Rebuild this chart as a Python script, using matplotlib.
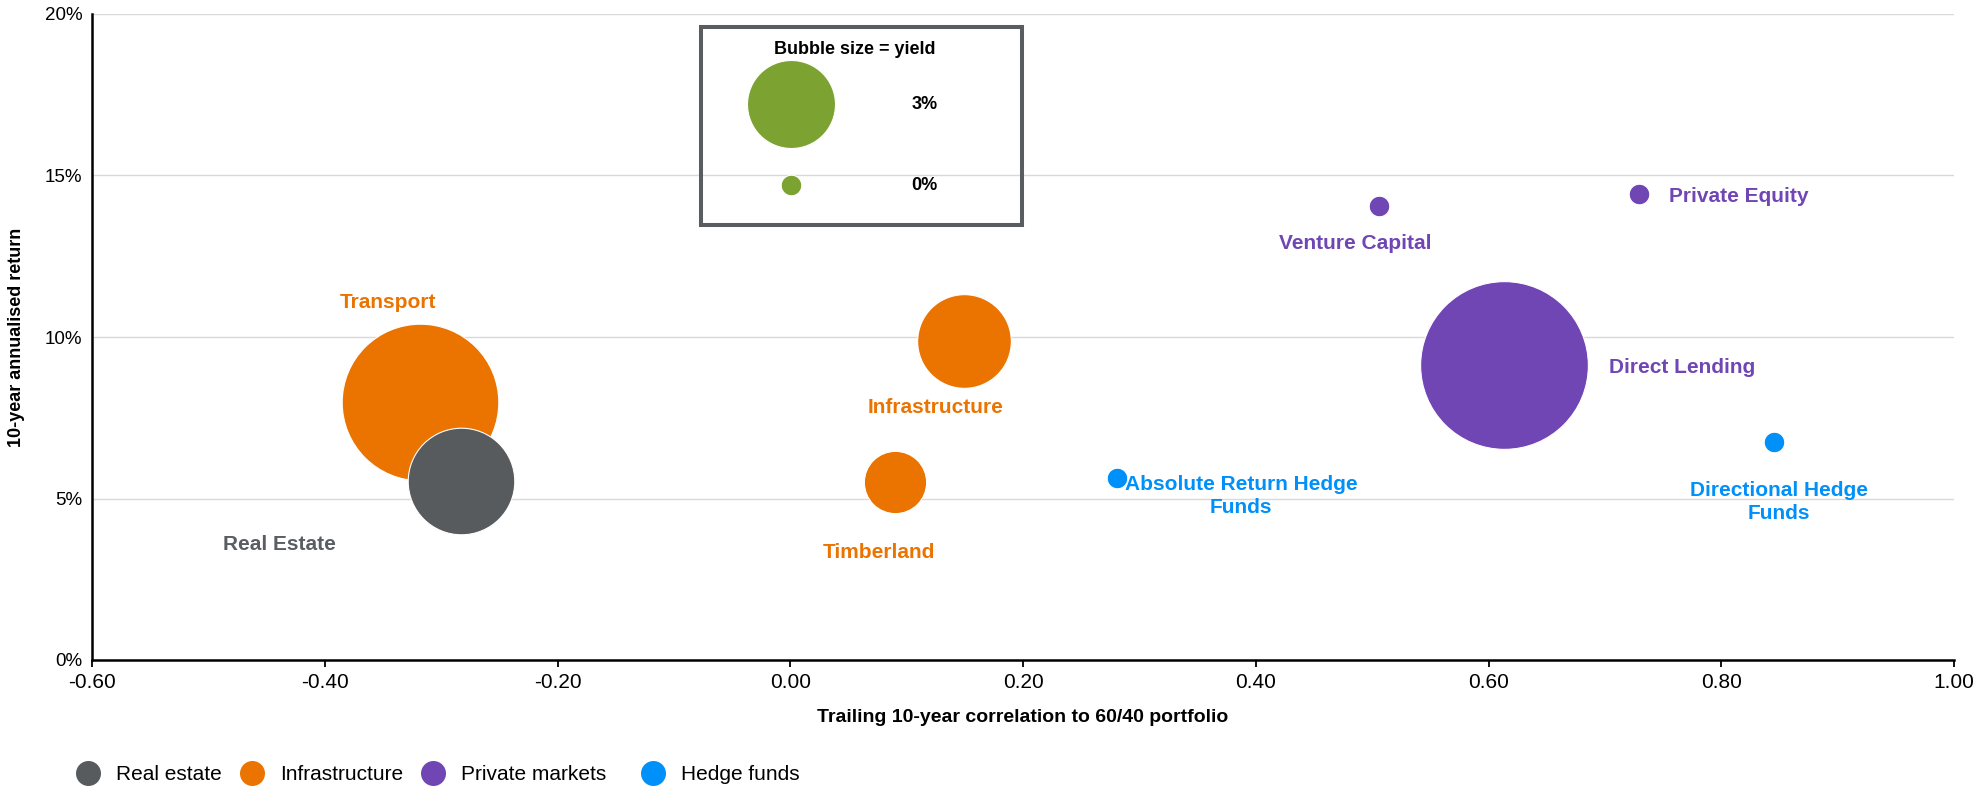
import numpy as np
import matplotlib
matplotlib.use("Agg")
import matplotlib.pyplot as plt
from matplotlib.lines import Line2D
from matplotlib.patches import Rectangle

plt.rcParams['font.family'] = ['Liberation Sans', 'DejaVu Sans']

# data
names = ['Real Estate', 'Transport', 'Infrastructure', 'Timberland',
         'Venture Capital', 'Private Equity', 'Direct Lending',
         'Absolute Return Hedge\nFunds', 'Directional Hedge\nFunds']
groups = ['Real estate', 'Infrastructure', 'Infrastructure', 'Infrastructure',
          'Private markets', 'Private markets', 'Private markets',
          'Hedge funds', 'Hedge funds']
correlation = [-0.283, -0.318, 0.149, 0.090, 0.506, 0.729, 0.613, 0.281, 0.845]
returns = [5.53, 8.0, 9.87, 5.5, 14.07, 14.42, 9.12, 5.63, 6.75]
yields = [4.4, 9.5, 3.4, 1.5, 0.0, 0.0, 10.9, 0.0, 0.0]

group_order = ['Real estate', 'Infrastructure', 'Private markets', 'Hedge funds']
key_yields = [3, 0]
key_labels = ['3%', '0%']

x_ticks = [-0.6, -0.4, -0.2, 0.0, 0.2, 0.4, 0.6, 0.8, 1.0]
y_ticks = [0, 5, 10, 15, 20]

# styling
colors = {'Real estate': '#575B5E', 'Infrastructure': '#EB7300',
          'Private markets': '#7046B4', 'Hedge funds': '#0090FA'}
label_colors = {'Real estate': '#5A5E62', 'Infrastructure': '#EB7300',
                'Private markets': '#7046B4', 'Hedge funds': '#0090FA'}
key_color = '#7CA232'
zorders = {'Real estate': 4, 'Infrastructure': 3, 'Private markets': 3, 'Hedge funds': 3}
# label offsets from bubble centre, in pixels
label_offsets = [(-181, -63), (-32, 99), (-28, -66), (-16, -70), (-24, -38),
                 (100, -2), (178, -2), (124, -18), (5, -60)]
# legend entry marker centres, in pixels from the left
legend_x = [87.5, 252, 433, 653]

DPI = 100
W, H = 1977, 789


def bubble_size(y):
    # bubble area follows yield, with a minimum dot; radius in px -> scatter s in pt^2
    r = max(10.3, 44 * np.sqrt(y / 3.0))
    d_pt = 2 * r * 72 / DPI
    return d_pt ** 2


fig = plt.figure(figsize=(W / DPI, H / DPI), dpi=DPI)
ax = fig.add_axes([92 / W, 1 - 660 / H, 1862 / W, 646 / H])

ax.set_xlim(-0.6, 1.0)
ax.set_ylim(0, 20)
ax.set_xticks(x_ticks)
ax.set_xticklabels([f"{t:.2f}" for t in x_ticks])
ax.set_yticks(y_ticks)
ax.set_yticklabels([f"{t}%" for t in y_ticks])
ax.tick_params(axis='x', length=5, width=1.3, direction='out', pad=4, labelsize=15, colors='black')
ax.tick_params(axis='y', length=0, pad=7, labelsize=13.5)
ax.grid(axis='y', color='#D9D9D9', linewidth=1.0)
ax.set_axisbelow(True)
for s in ['top', 'right']:
    ax.spines[s].set_visible(False)
for s in ['left', 'bottom']:
    ax.spines[s].set_linewidth(1.8)
    ax.spines[s].set_color('black')

ax.set_xlabel('Trailing 10-year correlation to 60/40 portfolio', fontsize=14, fontweight='bold')
ax.xaxis.label.set_va('center')
ax.xaxis.set_label_coords(0.5, (660 - 718) / 646)
ax.set_ylabel('10-year annualised return', fontsize=13, fontweight='bold')
ax.yaxis.label.set_va('center')
ax.yaxis.label.set_ha('center')
ax.yaxis.set_label_coords((17 - 92) / 1862, 0.5)

# bubbles
for i in range(len(names)):
    g = groups[i]
    ax.scatter(correlation[i], returns[i], s=bubble_size(yields[i]), color=colors[g],
               edgecolors='white', linewidths=0.8, zorder=zorders[g], clip_on=False)
    ax.annotate(names[i], (correlation[i], returns[i]), xytext=label_offsets[i],
                textcoords='offset pixels', ha='center', va='center',
                multialignment='center', linespacing=1.3,
                fontsize=15, fontweight='bold', color=label_colors[g], zorder=6)

# bubble size key
box = Rectangle((0.3269, 0.6734), 0.4993 - 0.3269, 0.9803 - 0.6734, transform=ax.transAxes,
                fill=False, edgecolor='#595D60', linewidth=2.9, zorder=5, clip_on=False)
ax.add_patch(box)
ax.text(0.4099, 0.9443, 'Bubble size = yield', transform=ax.transAxes, ha='center', va='center',
        fontsize=13, fontweight='bold', zorder=6)
key_y = [0.8602, 0.7348]
for ky, yv, lab in zip(key_y, key_yields, key_labels):
    ax.scatter([0.3754], [ky], s=bubble_size(yv), color=key_color, edgecolors='white',
               linewidths=0.8, transform=ax.transAxes, zorder=6, clip_on=False)
    ax.text(0.4472, ky, lab, transform=ax.transAxes, ha='center', va='center',
            fontsize=13, fontweight='bold', zorder=6)

# group legend, one entry per legend so spacing follows the reference
for g, lx in zip(group_order, legend_x):
    h = Line2D([], [], marker='o', linestyle='', markersize=18, markeredgewidth=0, color=colors[g])
    fig.legend([h], [g], loc='center left', bbox_to_anchor=((lx - 12.5) / W, 1 - 775 / H),
               frameon=False, fontsize=15, borderpad=0, borderaxespad=0,
               handlelength=1.2, handletextpad=0.75)

fig.savefig('out.png', dpi=DPI)
